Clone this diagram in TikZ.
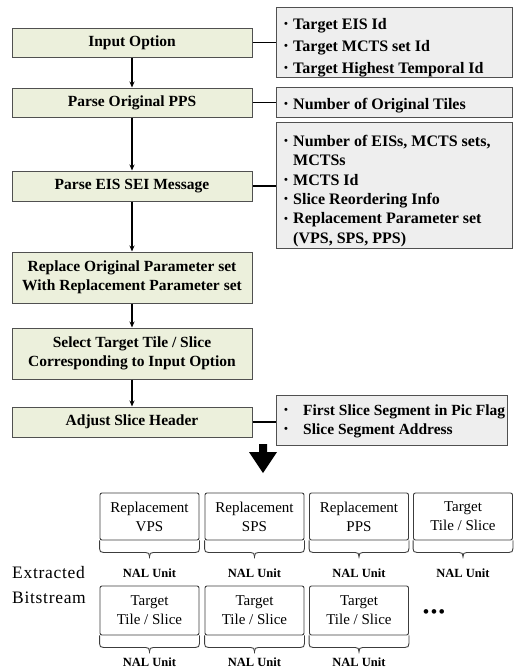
\documentclass[tikz,border=0pt]{standalone}
\usepackage{fontspec}
\setmainfont{Liberation Serif}
\newfontfamily\spacedfont[LetterSpace=4]{Liberation Serif}
\usetikzlibrary{arrows.meta,calc}
\definecolor{leftfill}{RGB}{236,240,220}
\definecolor{rightfill}{RGB}{238,238,238}
\definecolor{boxline}{RGB}{80,80,80}
\definecolor{nalline}{RGB}{60,60,60}
\newcommand\bul{\makebox[13pt][l]{\hspace{4pt}\raisebox{1.8pt}{\fontsize{11}{11}\selectfont\textbullet}}}
\newcommand\bulw{\makebox[23pt][l]{\hspace{4pt}\raisebox{1.8pt}{\fontsize{11}{11}\selectfont\textbullet}}}
\newcommand\nalbrace[1]{%
  \draw[nalline] (#1.south west) -- ++(0,8) .. controls +(0,3) and +(-3,0) .. ++(4,4)
     -- ($(#1.south)+(-4,12)$) .. controls +(3,0) and +(0,-3) .. ++(4,4) -- ++(0,2);
  \draw[nalline] (#1.south east) -- ++(0,8) .. controls +(0,3) and +(3,0) .. ++(-4,4)
     -- ($(#1.south)+(4,12)$) .. controls +(-3,0) and +(0,-3) .. ++(-4,4);
}
\tikzset{
  leftbox/.style={draw=boxline, line width=1pt, fill=leftfill, minimum width=240pt,
    inner sep=0pt, align=center, font=\fontsize{15.5}{19.5}\selectfont\bfseries},
  rightbox/.style={draw=boxline, line width=1pt, fill=rightfill, minimum width=236pt, inner sep=0pt},
  righttext/.style={anchor=west, inner sep=0pt, align=left,
    font=\fontsize{16}{22}\selectfont\bfseries},
  conn/.style={line width=1.2pt, black},
  arr/.style={line width=1.1pt, black, -{Stealth[length=6pt,width=5pt]}},
  nalbox/.style={draw=nalline, line width=0.9pt, rounded corners=2pt, minimum width=99pt,
    inner sep=0pt, align=center, font=\fontsize{15}{19}\selectfont},
  nalline/.style={draw=nalline, line width=0.9pt},
  naltext/.style={inner sep=0pt, font=\fontsize{12.5}{14}\selectfont\bfseries},
}
\begin{document}
\begin{tikzpicture}[x=1pt,y=-1pt]
\useasboundingbox (0,0) rectangle (514,670);
% left flow boxes
\node[leftbox, minimum height=29pt] (in) at (132,42.5) {Input Option};
\node[leftbox, minimum height=29pt] (pp) at (132,102.5) {Parse Original PPS};
\node[leftbox, minimum height=30pt] (ps) at (132,186) {Parse EIS SEI Message};
\node[leftbox, minimum height=51pt] (rp) at (132,277.5) {Replace Original Parameter set\\With Replacement Parameter set};
\node[leftbox, minimum height=51pt] (st) at (132,353.5) {Select Target Tile / Slice\\Corresponding to Input Option};
\node[leftbox, minimum height=30pt] (ad) at (132,422) {Adjust Slice Header};
% right info boxes
\node[rightbox, minimum height=70pt] (r1) at (394,42) {};
\node[righttext] (t1) at (280,47.5) {\bul Target EIS Id\\\bul Target MCTS set Id\\\bul Target Highest Temporal Id};
\node[rightbox, minimum height=30pt] (r2) at (394,102) {};
\node[righttext] (t2) at (280,105.5) {\bul Number of Original Tiles};
\node[rightbox, minimum height=126pt] (r3) at (394,185) {};
\node[righttext, font=\fontsize{16}{19.3}\selectfont\bfseries] (t3) at (280,191)
  {\bul Number of EISs, MCTS sets,\\\hspace*{13pt}MCTSs\\\bul MCTS Id\\\bul Slice Reordering Info\\\bul Replacement Parameter set\\\hspace*{13pt}(VPS, SPS, PPS)};
\node[rightbox, minimum height=50pt, minimum width=231pt] (r4) at (391.5,420) {};
\node[righttext, font=\fontsize{15.5}{19}\selectfont\bfseries] (t4) at (280,421.5)
  {\bulw First Slice Segment in Pic Flag\\\bulw Slice Segment Address};
% vertical arrows
\draw[arr] (in.south) -- (pp.north);
\draw[arr] (pp.south) -- (ps.north);
\draw[arr] (ps.south) -- (rp.north);
\draw[arr] (rp.south) -- (st.north);
\draw[arr] (st.south) -- (ad.north);
% horizontal connectors
\draw[conn] (in.east) -- (in.east -| r1.west);
\draw[conn] (pp.east) -- (pp.east -| r2.west);
\draw[conn] (ps.east) -- (ps.east -| r3.west);
\draw[conn] (ad.east) -- (ad.east -| r4.west);
% big arrow
\fill[black] (259,444) -- (267,444) -- (267,452) -- (277,452) -- (263,473) -- (249,452) -- (259,452) -- cycle;
% extracted bitstream
\node[anchor=west, inner sep=0pt, align=left, font=\spacedfont\fontsize{17.5}{25}\selectfont] (eb) at (12,585) {Extracted\\Bitstream};
% row 1
\node[nalbox, minimum height=47pt] (a1) at (149.5,516.5) {Replacement\\VPS};
\node[nalbox, minimum height=47pt] (a2) at (254.5,516.5) {Replacement\\SPS};
\node[nalbox, minimum height=47pt] (a3) at (359,516.5) {Replacement\\PPS};
\node[nalbox, minimum height=47pt] (a4) at (463,516.5) {Target\\Tile / Slice};
\foreach \n in {a1,a2,a3,a4} {\nalbrace{\n}}
\node[naltext] (na1) at ($(a1.south)+(0,33)$) {NAL Unit};
\node[naltext] (na2) at ($(a2.south)+(0,33)$) {NAL Unit};
\node[naltext] (na3) at ($(a3.south)+(0,33)$) {NAL Unit};
\node[naltext] (na4) at ($(a4.south)+(0,33)$) {NAL Unit};
% row 2
\node[nalbox, minimum height=49pt] (c1) at (149.5,610.5) {Target\\Tile / Slice};
\node[nalbox, minimum height=49pt] (c2) at (254.5,610.5) {Target\\Tile / Slice};
\node[nalbox, minimum height=49pt] (c3) at (359,610.5) {Target\\Tile / Slice};
\foreach \n in {c1,c2,c3} {\nalbrace{\n}}
\node[naltext] (nc1) at ($(c1.south)+(0,27)$) {NAL Unit};
\node[naltext] (nc2) at ($(c2.south)+(0,27)$) {NAL Unit};
\node[naltext] (nc3) at ($(c3.south)+(0,27)$) {NAL Unit};
\node[inner sep=0pt, font=\fontsize{17}{17}\selectfont\bfseries] (dots) at (434,614) {\textbullet\hspace{2pt}\textbullet\hspace{2pt}\textbullet};
\end{tikzpicture}
\end{document}
